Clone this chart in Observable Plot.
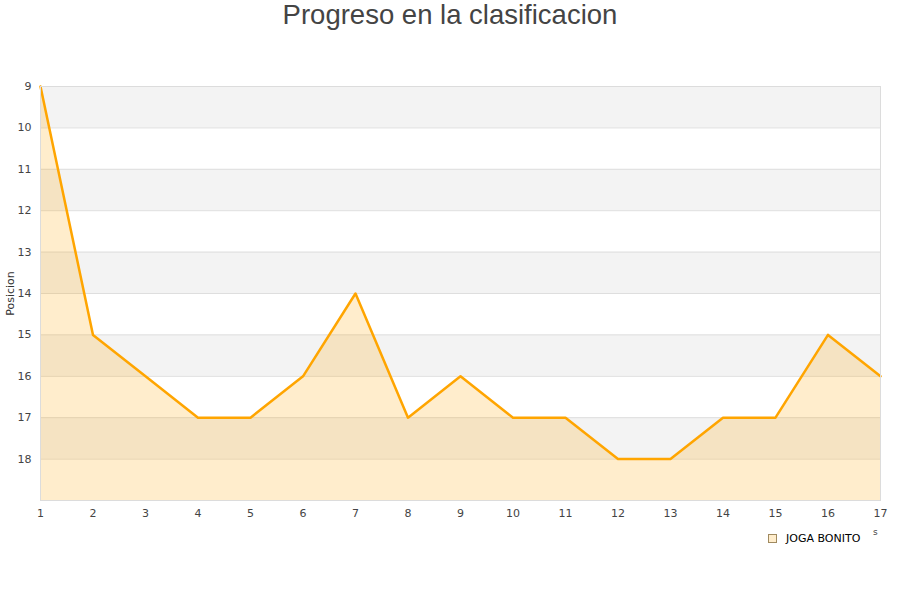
<!DOCTYPE html>
<html>
<head>
<meta charset="utf-8">
<script src="https://cdn.jsdelivr.net/npm/d3@7"></script>
<script src="https://cdn.jsdelivr.net/npm/@observablehq/plot@0.6"></script>
<style>
  html, body { margin: 0; padding: 0; background: #fff; }
  #wrap { position: relative; width: 900px; height: 600px; overflow: hidden; }
  #title { position: absolute; left: 0; top: 0; width: 900px; text-align: center;
           font-family: "Liberation Sans", Arial, sans-serif; font-size: 27.5px; color: #444;
           line-height: 30px; }
  #chart { position: absolute; left: 0; top: 40px; }
  #legend { position: absolute; left: 768px; top: 532px; font-family: "DejaVu Sans", sans-serif;
            font-size: 11px; color: #000; display: flex; align-items: center; }
  #legend .sw { width: 7px; height: 7px; border: 1px solid #a08a60; background: #ffedcc; margin-right: 9px; }
  #frag { position: absolute; left: 873px; top: 527px; font-family: "DejaVu Sans", sans-serif;
          font-size: 9px; color: #444; }
</style>
</head>
<body>
<div id="wrap">
  <div id="title">Progreso en la clasificacion</div>
  <div id="chart"></div>
  <div id="legend"><div class="sw"></div><span>JOGA BONITO</span></div>
  <div id="frag">s</div>
</div>
<script>
const jornadas = [1, 2, 3, 4, 5, 6, 7, 8, 9, 10, 11, 12, 13, 14, 15, 16, 17];
const posiciones = [9, 15, 16, 17, 17, 16, 14, 17, 16, 17, 17, 18, 18, 17, 17, 15, 16];
const yTicks = [9, 10, 11, 12, 13, 14, 15, 16, 17, 18];
const bandStarts = [9, 11, 13, 15, 17];
const seriesName = "JOGA BONITO";
const yAxisLabel = "Posicion";

const data = jornadas.map((j, i) => ({ jornada: j, pos: posiciones[i], serie: seriesName }));
const bands = bandStarts.map(b => ({ y1: b, y2: b + 1 }));

const plot = Plot.plot({
  width: 900,
  height: 560,
  marginTop: 46,
  marginBottom: 100,
  marginLeft: 40,
  marginRight: 20,
  style: { fontFamily: "DejaVu Sans, sans-serif", fontSize: "11px", color: "#444", background: "transparent" },
  x: { domain: [1, 17], ticks: jornadas, tickSize: 0, tickPadding: 9, label: null, tickFormat: d => String(d) },
  y: { domain: [19, 9], ticks: yTicks, tickSize: 0, tickPadding: 9, label: null },
  marks: [
    Plot.rect(bands, { x1: 1, x2: 17, y1: "y1", y2: "y2", fill: "#f3f3f3" }),
    Plot.ruleY(yTicks.slice(1), { stroke: "#dedede", strokeWidth: 1 }),
    Plot.areaY(data, { x: "jornada", y1: 19, y2: "pos", fill: "#ffa500", fillOpacity: 0.2 }),
    Plot.lineY(data, { x: "jornada", y: "pos", stroke: "#ffa500", strokeWidth: 2.5 }),
    Plot.frame({ stroke: "#dcdcdc" }),
    Plot.text([yAxisLabel], { frameAnchor: "left", textAnchor: "middle", dx: -30, rotate: -90, fontSize: 11, fill: "#333" })
  ]
});
document.getElementById("chart").appendChild(plot);
</script>
</body>
</html>
